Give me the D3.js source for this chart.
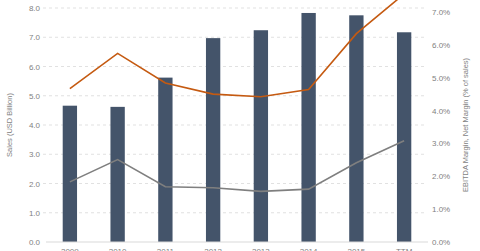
<!DOCTYPE html>
<html>
<head>
<meta charset="utf-8">
<script src="https://cdn.jsdelivr.net/npm/d3@7"></script>
<style>
  body { margin: 0; background: #fff; }
  text { font-family: "Liberation Sans", Arial, sans-serif; }
</style>
</head>
<body>
<div id="chart"></div>
<script>
// Data
var years = ["2009", "2010", "2011", "2012", "2013", "2014", "2015", "TTM"];
var sales = [4.66, 4.62, 5.62, 6.97, 7.24, 7.83, 7.75, 7.17];          // USD billion
var ebitdaMargin = [4.67, 5.74, 4.84, 4.50, 4.42, 4.64, 6.34, 7.55];   // % of sales
var netMargin = [1.83, 2.51, 1.68, 1.65, 1.54, 1.61, 2.41, 3.08];      // % of sales
var leftTicks = [0, 1, 2, 3, 4, 5, 6, 7, 8];
var rightTicks = [0, 1, 2, 3, 4, 5, 6, 7];

var width = 480, height = 251;
var plotTop = 8, plotBottom = 242;

var svg = d3.select("#chart")
  .append("svg")
  .attr("width", width)
  .attr("height", height);

// Scales
var x = d3.scaleBand()
  .domain(years)
  .range([46, 428])
  .paddingInner(0.7)
  .paddingOuter(0.35);
var yLeft = d3.scaleLinear().domain([0, 8]).range([plotBottom, plotTop]);
// right axis: 7% sits slightly lower than 8.0 on the left
var yRight = d3.scaleLinear().domain([0, 7]).range([plotBottom, 12]);

// Gridlines
svg.append("g")
  .selectAll("line")
  .data(leftTicks.slice(1))
  .enter().append("line")
  .attr("x1", 43)
  .attr("x2", 427)
  .attr("y1", function (d) { return yLeft(d); })
  .attr("y2", function (d) { return yLeft(d); })
  .attr("stroke", "#d9d9d9")
  .attr("stroke-width", 0.8)
  .attr("stroke-dasharray", "3,3");

// Left axis
var leftAxis = svg.append("g")
  .attr("transform", "translate(40,0)")
  .call(d3.axisLeft(yLeft).tickValues(leftTicks).tickSize(0).tickPadding(0)
    .tickFormat(d3.format(".1f")));
leftAxis.select(".domain").remove();
leftAxis.selectAll("text")
  .attr("fill", "#7f7f7f")
  .style("font-size", "8px");

// Right axis
var rightAxis = svg.append("g")
  .attr("transform", "translate(432,0)")
  .call(d3.axisRight(yRight).tickValues(rightTicks).tickSize(0).tickPadding(0)
    .tickFormat(function (d) { return d.toFixed(1) + "%"; }));
rightAxis.select(".domain").remove();
rightAxis.selectAll("text")
  .attr("fill", "#7f7f7f")
  .style("font-size", "8px");

// Bars
svg.selectAll("rect.bar")
  .data(sales)
  .enter().append("rect")
  .attr("class", "bar")
  .attr("x", function (d, i) { return x(years[i]); })
  .attr("y", function (d) { return yLeft(d); })
  .attr("width", x.bandwidth())
  .attr("height", function (d) { return plotBottom - yLeft(d); })
  .attr("fill", "#44546a");

// Baseline
svg.append("line")
  .attr("x1", 46).attr("x2", 428)
  .attr("y1", plotBottom).attr("y2", plotBottom)
  .attr("stroke", "#d9d9d9")
  .attr("stroke-width", 1);

// X labels
svg.append("g")
  .selectAll("text")
  .data(years)
  .enter().append("text")
  .attr("x", function (d) { return x(d) + x.bandwidth() / 2; })
  .attr("y", 254)
  .attr("text-anchor", "middle")
  .attr("fill", "#7f7f7f")
  .style("font-size", "8px")
  .text(function (d) { return d; });

// Lines
var line = d3.line()
  .x(function (d, i) { return x(years[i]) + x.bandwidth() / 2; })
  .y(function (d) { return yRight(d); });

svg.append("path")
  .datum(netMargin)
  .attr("d", line)
  .attr("fill", "none")
  .attr("stroke", "#7f7f7f")
  .attr("stroke-width", 1.6);

svg.append("path")
  .datum(ebitdaMargin)
  .attr("d", line)
  .attr("fill", "none")
  .attr("stroke", "#c55a11")
  .attr("stroke-width", 1.6);

// Axis titles
svg.append("text")
  .attr("transform", "translate(12,125) rotate(-90)")
  .attr("text-anchor", "middle")
  .attr("fill", "#7f7f7f")
  .style("font-size", "7.5px")
  .text("Sales (USD Billion)");

svg.append("text")
  .attr("transform", "translate(468,125) rotate(-90)")
  .attr("text-anchor", "middle")
  .attr("fill", "#7f7f7f")
  .style("font-size", "7.5px")
  .text("EBITDA Margin, Net Margin (% of sales)");
</script>
</body>
</html>
